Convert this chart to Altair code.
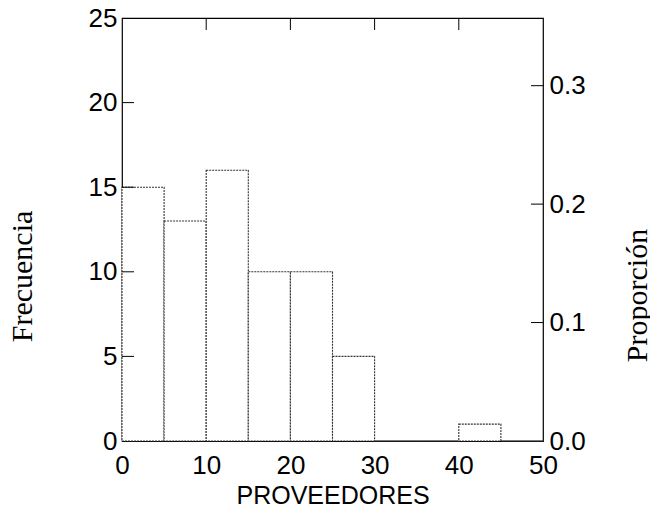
import altair as alt
import pandas as pd

# ---- data ----
bin_start = [0, 5, 10, 15, 20, 25, 30, 35, 40, 45]
bin_width = 5
freq = [15, 13, 16, 10, 10, 5, 0, 0, 1, 0]
n_total = 70
x_ticks = [0, 10, 20, 30, 40, 50]
top_ticks = [10, 20, 30, 40]
freq_ticks = [0, 5, 10, 15, 20, 25]
left_inner_ticks = [5, 10, 15, 20]
prop_ticks = [0.0, 0.1, 0.2, 0.3]
right_inner_ticks = [0.1, 0.2, 0.3]

W, H = 421, 423
FREQ_MAX = 25
PROP_MAX = FREQ_MAX / n_total
SANS = "Liberation Sans"
SERIF = "Liberation Serif"
LABEL_SIZE = 26

df = pd.DataFrame({
    "start": bin_start,
    "end": [s + bin_width for s in bin_start],
    "freq": freq,
})

freq_scale = alt.Scale(domain=[0, FREQ_MAX], nice=False, zero=True)
prop_scale = alt.Scale(domain=[0, PROP_MAX], nice=False, zero=True)
x_scale = alt.Scale(domain=[0, 50], nice=False)

bars = alt.Chart(df).mark_rect(
    fill="white", stroke="#333", strokeWidth=1.1, strokeDash=[2, 1]
).encode(
    x=alt.X("start:Q", scale=x_scale, axis=alt.Axis(
        orient="bottom", values=x_ticks, format="d", title="PROVEEDORES",
        domain=False, ticks=False, grid=False, labelFlush=False, labelOverlap=False,
        labelFont=SANS, labelFontSize=LABEL_SIZE, labelColor="black", labelPadding=11,
        titleFont=SANS, titleFontSize=25, titleFontWeight="normal", titleColor="black",
        titleBaseline="alphabetic", titleY=62, titleX=W / 2)),
    x2="end:Q",
    y=alt.Y("freq:Q", scale=freq_scale, axis=alt.Axis(
        orient="left", values=freq_ticks, format="d", title="Frecuencia",
        domain=False, ticks=False, grid=False, labelFlush=False, labelOverlap=False,
        labelFont=SANS, labelFontSize=LABEL_SIZE, labelColor="black", labelPadding=5,
        titleFont=SERIF, titleFontSize=30, titleFontWeight="normal",
        titleColor="black", titleAngle=270, titleAlign="center", titleBaseline="middle",
        titleX=-100, titleY=258)),
    y2=alt.datum(0),
)

left_ticks = alt.Chart(pd.DataFrame({"v": left_inner_ticks})).mark_rule(
    color="black", strokeWidth=1
).encode(
    y=alt.Y("v:Q", scale=freq_scale, axis=None),
    x=alt.value(0), x2=alt.value(12),
)

top = alt.Chart(pd.DataFrame({"v": top_ticks})).mark_rule(
    color="black", strokeWidth=1
).encode(
    x=alt.X("v:Q", scale=x_scale, axis=None),
    y=alt.value(0), y2=alt.value(12),
)

right = alt.Chart(pd.DataFrame({"p": right_inner_ticks})).mark_rule(
    color="black", strokeWidth=1
).encode(
    y=alt.Y("p:Q", scale=prop_scale, axis=alt.Axis(
        orient="right", values=prop_ticks, format=".1f", title="Proporción",
        domain=False, ticks=False, grid=False, labelFlush=False, labelOverlap=False,
        labelFont=SANS, labelFontSize=LABEL_SIZE, labelColor="black", labelPadding=6,
        titleFont=SERIF, titleFontSize=30, titleFontWeight="normal", titleColor="black",
        titleAngle=270, titleAlign="center", titleBaseline="middle",
        titleX=94, titleY=277)),
    x=alt.value(W - 12), x2=alt.value(W),
)

chart = alt.layer(bars, left_ticks, top, right).resolve_scale(
    y="independent"
).resolve_axis(
    x="independent"
).properties(
    width=W, height=H,
    autosize=alt.AutoSizeParams(type="none"),
    padding={"left": 114, "top": 10, "right": 107, "bottom": 64},
).configure_view(stroke="black", strokeWidth=1.2)

chart.save("out.html", embed_options={"renderer": "svg", "actions": False})
